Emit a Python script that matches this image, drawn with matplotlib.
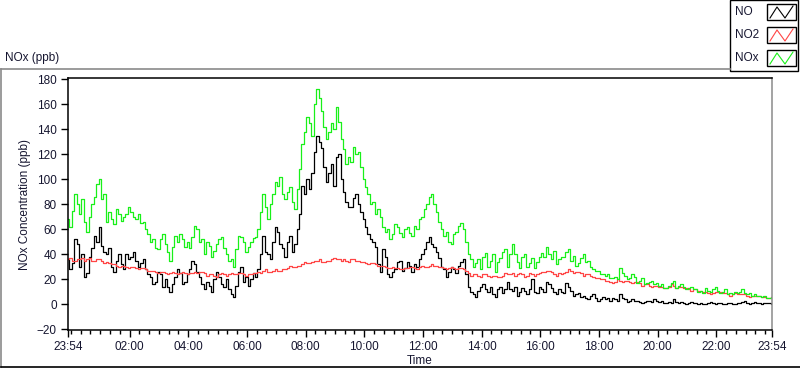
import matplotlib
matplotlib.use("Agg")
import matplotlib.pyplot as plt
from matplotlib.lines import Line2D
from matplotlib.patches import Rectangle
import numpy as np

# readings every 5 minutes, starting at 23:54
no = [36,
      28, 33, 52, 48, 30, 40, 22, 25, 38, 45, 55, 50, 62, 47, 42, 40, 45, 30, 26, 35,
      40, 32, 28, 40, 36, 38, 42, 35, 30, 33, 36, 28, 24, 22, 16, 18, 26, 24, 14, 20,
      14, 10, 16, 22, 28, 25, 16, 18, 24, 28, 35, 32, 26, 22, 16, 12, 18, 15, 10, 20,
      26, 22, 16, 14, 20, 12, 8, 6, 15, 26, 30, 18, 22, 15, 20, 25, 22, 28, 40, 55,
      42, 40, 36, 50, 62, 58, 48, 45, 38, 50, 55, 42, 48, 60, 72, 95, 88, 100, 92, 105,
      122, 135, 130, 125, 110, 98, 105, 112, 95, 118, 120, 100, 90, 82, 78, 78, 85, 88, 80, 74,
      68, 62, 56, 52, 50, 46, 32, 26, 44, 38, 24, 22, 26, 28, 34, 35, 27, 29, 34, 31,
      26, 32, 30, 36,
      40, 44, 50, 54, 48, 46, 42, 37, 30, 28, 22, 26, 30, 28, 25, 31, 34, 36, 24, 14,
      10, 8, 6, 11, 14, 16, 12, 10, 14, 8, 6, 12, 14, 9, 12, 18, 12, 11, 14, 7,
      10, 13, 11, 8, 12, 20, 10, 9, 14, 12, 10, 18, 16, 13, 10, 8, 12, 10, 9, 17,
      14, 11, 7, 8, 9, 6, 7, 5, 4, 7, 8, 5, 3, 4, 6, 4, 5, 3, 5, 4,
      3, 8, 5, 4, 2, 3, 4, 3, 3, 2, 1, 2, 3, 3, 2, 4, 3, 2, 3, 1,
      1, 2, 1, 4, 2, 1, 2, 1, 0, 1, 2, 1, 1, 0, 1, 0, 0, 1, 2, 1,
      0, 1, 1, 0, 0, 1, 1, 0, 0, 1, 1, 2, 3, 1, 0, 1, 2, 1, 1, 0,
      1, 1, 1, 0]

no2 = [36,
       37, 35, 35, 36, 36, 37, 35, 36, 37, 35, 35, 36, 36, 35, 33, 34, 33, 32, 32, 31,
       30, 31, 31, 30, 29, 30, 30, 29, 28, 29, 29, 28, 27, 27, 27, 26, 25, 26, 26, 25,
       24, 25, 26, 25, 24, 25, 26, 25, 24, 25, 25, 26, 25, 26, 26, 25, 23, 24, 24, 23,
       22, 24, 25, 24, 23, 24, 25, 24, 24, 25, 25, 24, 23, 24, 24, 25, 25, 26, 25, 27,
       28, 26, 26, 27, 28, 27, 27, 28, 28, 29, 31, 30, 30, 31, 31, 32, 34, 33, 33, 34,
       35, 35, 36, 34, 34, 35, 35, 36, 37, 36, 36, 35, 36, 35, 34, 36, 36, 35, 35, 34,
       34, 33, 32, 33, 33, 32, 31, 31, 31, 30, 29, 29, 30, 29, 29, 28, 28, 29, 29, 30,
       30, 29, 28, 30,
       31, 30, 30, 31, 32, 31, 31, 30, 30, 29, 28, 29, 30, 29, 28, 29, 29, 28, 27, 25,
       23, 24, 24, 23, 22, 24, 24, 23, 22, 23, 23, 22, 22, 23, 25, 24, 24, 25, 23, 24,
       25, 24, 22, 23, 25, 24, 23, 24, 25, 26, 26, 27, 27, 26, 24, 23, 25, 24, 25, 26,
       28, 27, 25, 26, 26, 25, 23, 24, 24, 23, 22, 21, 21, 20, 20, 19, 19, 18, 17, 18,
       20, 19, 18, 19, 19, 18, 17, 18, 18, 17, 15, 16, 16, 15, 14, 15, 15, 14, 14, 13,
       13, 14, 16, 15, 13, 14, 14, 13, 13, 12, 11, 12, 12, 11, 11, 10, 10, 9, 8, 9,
       10, 10, 10, 9, 9, 8, 7, 8, 9, 8, 8, 8, 8, 7, 6, 7, 7, 7, 7, 6,
       6, 5, 5, 6]

nox = [68,
       62, 75, 88, 80, 72, 84, 66, 58, 70, 80, 86, 96, 100, 84, 88, 66, 74, 68, 64, 76,
       72, 67, 70, 72, 78, 74, 70, 68, 72, 65, 66, 60, 56, 50, 52, 45, 44, 52, 56, 48,
       42, 35, 46, 55, 50, 56, 52, 46, 50, 45, 54, 63, 60, 50, 52, 40, 50, 47, 38, 43,
       48, 52, 54, 45, 40, 35, 36, 30, 44, 55, 54, 50, 42, 46, 50, 53, 54, 60, 74, 88,
       78, 68, 80, 88, 98, 95, 102, 88, 84, 90, 94, 82, 76, 92, 108, 128, 138, 150, 145, 135,
       160, 172, 165, 155, 142, 132, 138, 145, 140, 158, 146, 132, 124, 112, 118, 114, 126, 120, 122, 110,
       100, 94, 88, 80, 82, 72, 76, 70, 62, 58, 60, 52, 56, 64, 62, 57, 54, 60, 62, 57,
       55, 63, 60, 68,
       70, 76, 80, 86, 88, 80, 74, 66, 60, 55, 58, 50, 48, 56, 58, 63, 65, 60, 50, 40,
       36, 30, 33, 36, 28, 38, 41, 30, 35, 40, 26, 34, 37, 42, 44, 30, 40, 48, 40, 34,
       29, 38, 40, 30, 33, 37, 29, 34, 38, 41, 38, 46, 40, 36, 43, 32, 36, 38, 38, 42,
       44, 35, 39, 31, 33, 37, 40, 34, 35, 30, 28, 27, 27, 24, 24, 23, 24, 21, 21, 22,
       20, 29, 25, 23, 20, 21, 24, 22, 17, 19, 21, 16, 17, 18, 19, 16, 17, 15, 16, 13,
       13, 15, 17, 19, 13, 15, 16, 14, 12, 13, 14, 12, 12, 10, 11, 9, 13, 11, 10, 12,
       14, 11, 9, 10, 12, 8, 9, 8, 10, 9, 10, 12, 9, 8, 9, 7, 8, 7, 7, 6,
       7, 5, 5, 6]

assert len(no) == len(no2) == len(nox) == 289
minutes = np.arange(len(no)) * 5

series_names = ["NO", "NO2", "NOx"]
series_colors = ["#000000", "#ff4545", "#19f019"]

tick_minutes = [0, 126, 246, 366, 486, 606, 726, 846, 966, 1086, 1206, 1326, 1440]
tick_labels = ["23:54", "02:00", "04:00", "06:00", "08:00", "10:00", "12:00",
               "14:00", "16:00", "18:00", "20:00", "22:00", "23:54"]

txt = "#161630"
plt.rcParams["font.family"] = ["Liberation Sans", "DejaVu Sans"]

W, H = 800, 369
fig = plt.figure(figsize=(W / 100, H / 100), dpi=100)

def fx(px):
    return px / W

def fy(py):
    return 1 - py / H

# outer panel frame
fig.add_artist(Line2D([fx(1), fx(1)], [fy(69), fy(367)], color="#8a8a8a", lw=1.2))
fig.add_artist(Line2D([fx(1), fx(730)], [fy(69), fy(69)], color="#8a8a8a", lw=1.2))
fig.add_artist(Line2D([fx(1), fx(800)], [fy(367), fy(367)], color="#000000", lw=1.2))

ax = fig.add_axes([fx(68), fy(330), fx(772 - 68), (330 - 78) / H])
for vals, name, col in zip([no, no2, nox], series_names, series_colors):
    ax.plot(minutes, vals, color=col, lw=0.9, drawstyle="steps-mid", label=name)

ax.set_xlim(0, 1440)
ax.set_ylim(-20.6, 181.2)
ax.set_yticks(np.arange(-20, 181, 20))
ax.set_xticks(tick_minutes)
ax.set_xticklabels(tick_labels)
ax.set_xticks(np.arange(6, 1440, 20), minor=True)
ax.tick_params(axis="both", which="major", direction="out", length=5, width=1,
               colors="#000000", labelcolor=txt, labelsize=8.5, pad=3)
ax.tick_params(axis="x", which="minor", direction="out", length=3, width=1, colors="#000000")
ax.tick_params(axis="y", which="minor", left=False)
for s in ["left", "bottom", "top"]:
    ax.spines[s].set_color("#000000")
    ax.spines[s].set_linewidth(1.1)
ax.spines["right"].set_color("#8a8a8a")
ax.spines["right"].set_linewidth(1.1)

ax.set_xlabel("Time", fontsize=8.5, color=txt, labelpad=1)
ax.set_ylabel("NOx Concentration (ppb)", fontsize=8.5, color=txt, labelpad=4)

fig.text(fx(5), fy(58), "NOx (ppb)", fontsize=8.5, color=txt, va="center", ha="left")

# legend box at top right
fig.add_artist(Rectangle((fx(730), fy(71)), fx(798 - 730), 71 / H, transform=fig.transFigure,
                         facecolor="white", edgecolor="#000000", lw=1.0))
rows_y = [12, 35, 58]
for name, col, ry in zip(series_names, series_colors, rows_y):
    fig.text(fx(735), fy(ry), name, fontsize=8.5, color=txt, va="center", ha="left")
    fig.add_artist(Rectangle((fx(767), fy(ry + 8)), fx(29), 16 / H, transform=fig.transFigure,
                             facecolor="white", edgecolor="#000000", lw=1.0))
    zx = [770, 777, 785, 793]
    zy = [ry + 6, ry - 5, ry + 6, ry - 6]
    fig.add_artist(Line2D([fx(v) for v in zx], [fy(v) for v in zy], color=col, lw=0.8))

fig.savefig("out.png", dpi=100)
